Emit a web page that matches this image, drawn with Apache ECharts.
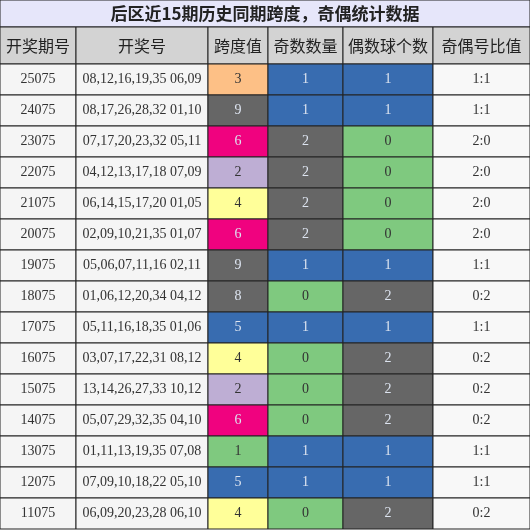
<!DOCTYPE html><html><head><meta charset="utf-8"><script src="https://cdn.jsdelivr.net/npm/echarts@6/dist/echarts.min.js"></script>
<style>html,body{margin:0;padding:0}#c{width:530px;height:530px}</style></head><body><div id="c"></div><script>
const title='后区近15期历史同期跨度，奇偶统计数据';
const headers=['开奖期号','开奖号','跨度值','奇数数量','偶数球个数','奇偶号比值'];
const periods=['25075','24075','23075','22075','21075','20075','19075','18075','17075','16075','15075','14075','13075','12075','11075'];
const draws=['08,12,16,19,35 06,09','08,17,26,28,32 01,10','07,17,20,23,32 05,11','04,12,13,17,18 07,09','06,14,15,17,20 01,05','02,09,10,21,35 01,07','05,06,07,11,16 02,11','01,06,12,20,34 04,12','05,11,16,18,35 01,06','03,07,17,22,31 08,12','13,14,26,27,33 10,12','05,07,29,32,35 04,10','01,11,13,19,35 07,08','07,09,10,18,22 05,10','06,09,20,23,28 06,10'];
const spans=[3,9,6,2,4,6,9,8,5,4,2,6,1,5,4];
const odds=[1,1,2,2,2,2,1,0,1,0,0,0,1,1,0];
const evens=[1,1,0,0,0,0,1,2,1,2,2,2,1,1,2];
const ratios=['1:1','1:1','2:0','2:0','2:0','2:0','1:1','0:2','1:1','0:2','0:2','0:2','1:1','1:1','0:2'];

const colEdges=[0,76,208,268,343,433,530];
const spanColor={1:'#7fc97f',2:'#beaed4',3:'#fdc086',4:'#ffff99',5:'#386cb0',6:'#f0027f',7:'#bf5b17',8:'#666666',9:'#666666'};
const cntColor={0:'#7fc97f',1:'#386cb0',2:'#666666'};
const dark=c=>['#386cb0','#f0027f','#666666','#bf5b17'].includes(c);
const cells=[];
cells.push({value:[0,-2,title,'#e6e6fa',1]});
headers.forEach((h,i)=>cells.push({value:[i,-1,h,'#d3d3d3',0]}));
periods.forEach((p,r)=>{
  cells.push({value:[0,r,p,'#f5f5f5',0]});
  cells.push({value:[1,r,draws[r],'#f5f5f5',0]});
  cells.push({value:[2,r,String(spans[r]),spanColor[spans[r]],0]});
  cells.push({value:[3,r,String(odds[r]),cntColor[odds[r]],0]});
  cells.push({value:[4,r,String(evens[r]),cntColor[evens[r]],0]});
  cells.push({value:[5,r,ratios[r],'#f8f8f8',0]});
});
function rowTop(r){return r===-2?0:r===-1?27:64+r*31;}
function rowBot(r){return r===-2?27:r===-1?64:64+(r+1)*31;}
const chart=echarts.init(document.getElementById('c'));
chart.setOption({
  animation:false,
  grid:{left:0,right:0,top:0,bottom:0},
  xAxis:{type:'value',min:0,max:530,show:false},
  yAxis:{type:'value',min:0,max:530,inverse:true,show:false},
  series:[{type:'custom',data:cells,renderItem:function(params,api){
    const d=cells[params.dataIndex].value;
    const c=d[0],r=d[1];
    const x1=r===-2?0:colEdges[c],x2=r===-2?530:colEdges[c+1];
    const p1=api.coord([x1,rowTop(r)]),p2=api.coord([x2,rowBot(r)]);
    const isHead=r<0;
    const font=r===-2?'bold 17px "Noto Sans CJK SC"':(r===-1?'16px "Noto Sans CJK SC"':'14px "Liberation Serif"');
    const fill=d[3];
    return {type:'group',children:[
      {type:'rect',shape:{x:p1[0],y:p1[1],width:p2[0]-p1[0],height:p2[1]-p1[1]},style:{fill:fill,stroke:'#222',lineWidth:1}},
      {type:'text',x:(p1[0]+p2[0])/2,y:(p1[1]+p2[1])/2,style:{text:d[2],font:font,fill:isHead?'#222':(dark(fill)?'#dde4f0':'#333'),align:'center',verticalAlign:'middle'}}
    ]};
  }}]
});
</script></body></html>
